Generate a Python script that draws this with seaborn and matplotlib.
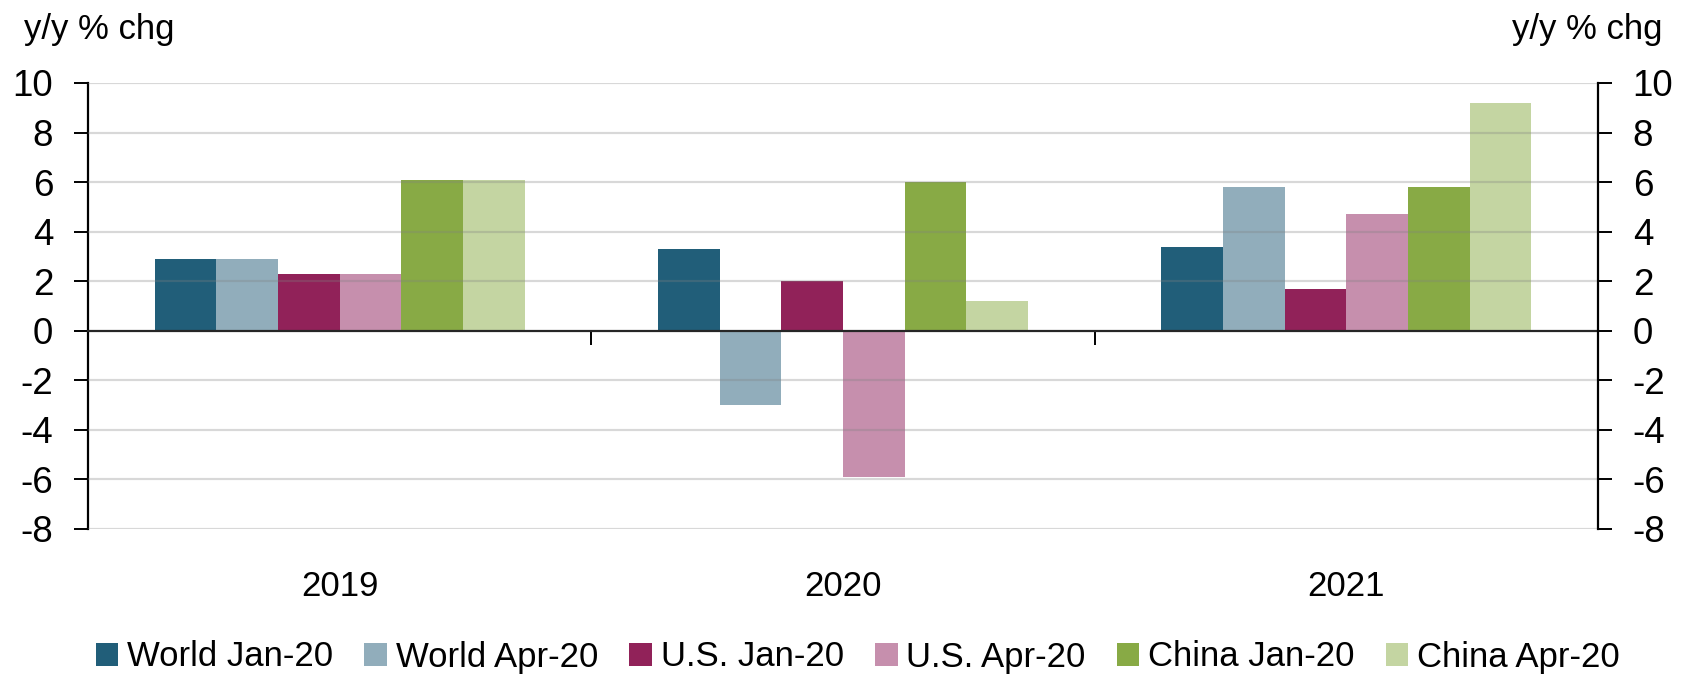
import numpy as np
import pandas as pd
import seaborn as sns
import matplotlib.pyplot as plt
from matplotlib.ticker import FixedLocator, FuncFormatter

# data
years = ['2019', '2020', '2021']
series = ['World Jan-20', 'World Apr-20', 'U.S. Jan-20', 'U.S. Apr-20', 'China Jan-20', 'China Apr-20']
world_jan = [2.9, 3.3, 3.4]
world_apr = [2.9, -3.0, 5.8]
us_jan = [2.3, 2.0, 1.7]
us_apr = [2.3, -5.9, 4.7]
china_jan = [6.1, 6.0, 5.8]
china_apr = [6.1, 1.2, 9.2]
colors = ['#215E79', '#91ADBB', '#912259', '#C68FAD', '#88AA45', '#C4D5A2']

rows = []
for name, vals in zip(series, [world_jan, world_apr, us_jan, us_apr, china_jan, china_apr]):
    for y, v in zip(years, vals):
        rows.append({'year': y, 'series': name, 'value': v})
df = pd.DataFrame(rows)

sns.set_style('white')
plt.rcParams['font.family'] = ['Liberation Sans', 'DejaVu Sans']
plt.rcParams['text.color'] = 'black'
plt.rcParams['xtick.color'] = 'black'
plt.rcParams['ytick.color'] = 'black'

fig = plt.figure(figsize=(16.92, 6.78), dpi=100)
ax = fig.add_axes([88 / 1692, 1 - 529 / 678, (1598 - 88) / 1692, (529 - 83) / 678])

sns.barplot(data=df, x='year', y='value', hue='series', hue_order=series, order=years,
            palette=colors, width=0.735, saturation=1, linewidth=0, errorbar=None,
            legend=True, ax=ax)

ax.set_xlim(-0.5, 2.5)
ax.set_ylim(-8, 10)
ax.set_yticks(np.arange(-8, 11, 2))
ax.set_xlabel('')
ax.set_ylabel('')

# gridlines over the bars, semi transparent
for yv in np.arange(-8, 11, 2):
    if yv != 0:
        ax.axhline(yv, color='#808080', alpha=0.3, lw=1.6, zorder=5)

# spines
ax.spines['top'].set_visible(False)
ax.spines['bottom'].set_position(('data', 0))
ax.spines['bottom'].set_linewidth(1.6)
ax.spines['bottom'].set_zorder(6)
for s in ['left', 'right']:
    ax.spines[s].set_linewidth(1.6)
    ax.spines[s].set_color('black')
ax.spines['right'].set_visible(False)

# plain hyphen for negative labels, like the reference
fmt = FuncFormatter(lambda v, p: '%d' % v)
ax.yaxis.set_major_formatter(fmt)
ax.set_xticks([])
ax.xaxis.set_minor_locator(FixedLocator([0.5, 1.5]))
ax.tick_params(axis='x', which='minor', direction='out', length=10, width=1.4, color='black', bottom=True)
ax.tick_params(axis='y', direction='out', length=10, width=1.4, color='black', labelsize=26.5, pad=15, left=True)

# category labels below the plot
for i, y in enumerate(years):
    ax.text(i, -0.128, y, transform=ax.get_xaxis_transform(), ha='center', va='center', fontsize=25)

# right axis mirror
ax2 = ax.twinx()
ax2.set_ylim(-8, 10)
ax2.set_yticks(np.arange(-8, 11, 2))
ax2.yaxis.set_major_formatter(fmt)
for s in ['top', 'left', 'bottom']:
    ax2.spines[s].set_visible(False)
ax2.spines['right'].set_linewidth(1.6)
ax2.spines['right'].set_color('black')
ax2.tick_params(axis='y', direction='out', length=10, width=1.4, color='black', labelsize=26.5, pad=15, right=True)

fig.text(24 / 1692, 1 - 29 / 678, 'y/y % chg', ha='left', va='center', fontsize=25)
fig.text(1662 / 1692, 1 - 29 / 678, 'y/y % chg', ha='right', va='center', fontsize=25)

handles, labels = ax.get_legend_handles_labels()
ax.get_legend().remove()
fig.legend(handles, labels, loc='center', bbox_to_anchor=(0.507, 1 - 657 / 678), ncol=6,
           frameon=False, fontsize=25, handlelength=0.65, handleheight=0.65,
           handletextpad=0.25, columnspacing=0.9, borderaxespad=0)

fig.savefig('out.png', dpi=100)
